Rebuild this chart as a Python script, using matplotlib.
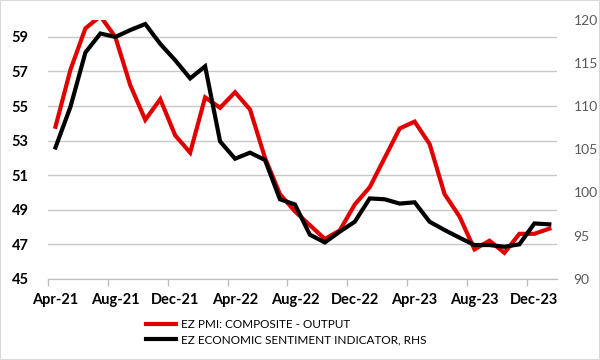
import matplotlib
matplotlib.use("Agg")
import matplotlib.pyplot as plt
from matplotlib.patches import Rectangle
import numpy as np

months = ["Apr-21","May-21","Jun-21","Jul-21","Aug-21","Sep-21","Oct-21","Nov-21","Dec-21",
          "Jan-22","Feb-22","Mar-22","Apr-22","May-22","Jun-22","Jul-22","Aug-22","Sep-22",
          "Oct-22","Nov-22","Dec-22","Jan-23","Feb-23","Mar-23","Apr-23","May-23","Jun-23",
          "Jul-23","Aug-23","Sep-23","Oct-23","Nov-23","Dec-23","Jan-24"]
pmi = [53.8, 57.1, 59.5, 60.2, 59.0, 56.2, 54.2, 55.4, 53.3, 52.3, 55.5, 54.9, 55.8, 54.8,
       52.0, 49.9, 48.9, 48.1, 47.3, 47.8, 49.3, 50.3, 52.0, 53.7, 54.1, 52.8, 49.9, 48.6,
       46.7, 47.2, 46.5, 47.6, 47.6, 47.9]
esi = [105.2, 109.9, 116.2, 118.4, 118.0, 118.8, 119.5, 117.2, 115.3, 113.2, 114.6, 105.9,
       103.9, 104.6, 103.75, 99.2, 98.6, 95.1, 94.2, 95.45, 96.6, 99.3, 99.2, 98.7, 98.85,
       96.6, 95.64, 94.75, 93.9, 93.9, 93.7, 93.98, 96.4, 96.3]
pmi_label = "EZ PMI: COMPOSITE - OUTPUT"
esi_label = "EZ ECONOMIC SENTIMENT INDICATOR, RHS"

plt.rcParams['font.family'] = ['Lato', 'DejaVu Sans']

fig = plt.figure(figsize=(6, 3.6), dpi=100)
ax = fig.add_axes([0.08, 0.2258, 0.848, 0.7195])
ax2 = ax.twinx()

x = np.arange(len(months))
l1, = ax.plot(x, pmi, color='#E00000', lw=3, solid_joinstyle='miter', zorder=3)
l2, = ax2.plot(x, esi, color='black', lw=3, solid_joinstyle='miter', zorder=3)

ax.set_ylim(45, 60)
ax.set_yticks(np.arange(45, 60, 2))
ax2.set_ylim(90, 120)
ax2.set_yticks(np.arange(90, 121, 5))
ax.set_xlim(-0.5, len(months) - 0.5)

ax.set_xticks(np.arange(-0.5, len(months) - 0.5, 4))
ax.set_xticklabels([])
ax.set_xticks(np.arange(0, len(months), 4), minor=True)
ax.set_xticklabels([months[i] for i in range(0, len(months), 4)], minor=True,
                   fontsize=10.5, fontweight='bold')
ax.tick_params(axis='x', which='major', length=5, color='#BFBFBF', width=1)
ax.tick_params(axis='x', which='minor', length=0, pad=10)

ax.yaxis.grid(True, color='#C8C8C8', lw=1)
ax.set_axisbelow(True)
ax.tick_params(axis='y', length=0, pad=14, labelsize=10.5)
for t in ax.get_yticklabels():
    t.set_fontweight('bold')
ax2.tick_params(axis='y', length=0, pad=12, labelsize=10, labelcolor='#595959')

for a in (ax, ax2):
    for s in ('top', 'left', 'right'):
        a.spines[s].set_visible(False)
    a.spines['bottom'].set_color('#BFBFBF')

fig.legend([l1, l2], [pmi_label, esi_label], loc='center left',
           bbox_to_anchor=(0.243, 0.077), frameon=False, fontsize=8.5,
           handlelength=2.6, handletextpad=0.4, labelspacing=0.35,
           borderaxespad=0, borderpad=0)

fig.patches.append(Rectangle((0, 0), 1, 1, transform=fig.transFigure, fill=False,
                             edgecolor='#D9D9D9', lw=1.5))
fig.savefig("out.png", dpi=100)
